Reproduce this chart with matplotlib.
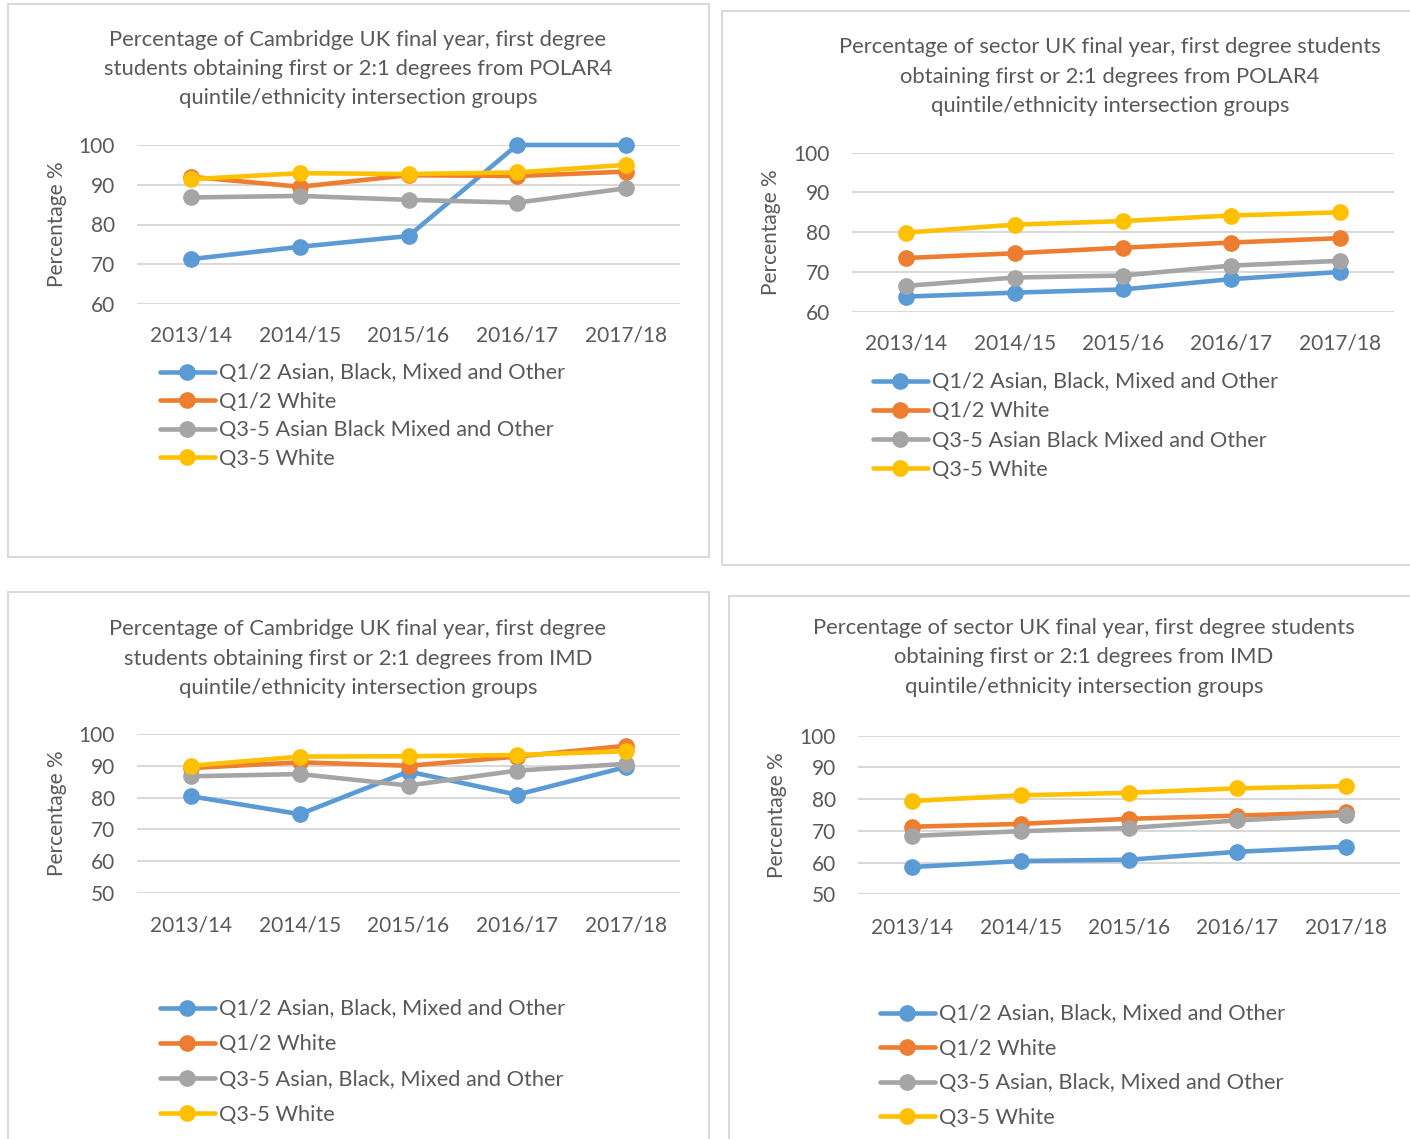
import matplotlib
matplotlib.use("Agg")
import matplotlib.pyplot as plt
from matplotlib.patches import Rectangle

plt.rcParams['font.family'] = ['Lato', 'DejaVu Sans']

W, H = 1410, 1139
DPI = 100

years = ["2013/14", "2014/15", "2015/16", "2016/17", "2017/18"]

series_names_a = ["Q1/2 Asian, Black, Mixed and Other", "Q1/2 White",
                  "Q3-5 Asian Black Mixed and Other", "Q3-5 White"]
series_names_b = ["Q1/2 Asian, Black, Mixed and Other", "Q1/2 White",
                  "Q3-5 Asian, Black, Mixed and Other", "Q3-5 White"]

# Cambridge POLAR4
cam_polar_q12_bame = [71.3, 74.4, 77.1, 100.0, 100.0]
cam_polar_q12_white = [92.0, 89.5, 92.4, 92.2, 93.3]
cam_polar_q35_bame = [86.8, 87.2, 86.2, 85.5, 89.1]
cam_polar_q35_white = [91.4, 92.9, 92.7, 93.1, 95.0]

# Sector POLAR4
sec_polar_q12_bame = [63.8, 64.8, 65.6, 68.2, 70.0]
sec_polar_q12_white = [73.5, 74.7, 76.1, 77.4, 78.5]
sec_polar_q35_bame = [66.5, 68.6, 69.1, 71.6, 72.8]
sec_polar_q35_white = [79.9, 81.9, 82.8, 84.2, 85.0]

# Cambridge IMD
cam_imd_q12_bame = [80.4, 74.8, 88.2, 80.9, 89.6]
cam_imd_q12_white = [89.3, 91.1, 90.0, 92.9, 96.3]
cam_imd_q35_bame = [86.7, 87.4, 83.8, 88.5, 90.6]
cam_imd_q35_white = [90.0, 92.9, 93.0, 93.4, 94.6]

# Sector IMD
sec_imd_q12_bame = [58.6, 60.5, 60.9, 63.4, 65.0]
sec_imd_q12_white = [71.3, 72.2, 73.8, 74.8, 75.9]
sec_imd_q35_bame = [68.4, 69.9, 70.9, 73.3, 75.0]
sec_imd_q35_white = [79.4, 81.2, 82.0, 83.4, 84.1]

colors = ["#5B9BD5", "#ED7D31", "#A5A5A5", "#FFC000"]
TXT = "#595959"
GRID = "#D9D9D9"

fig = plt.figure(figsize=(W / DPI, H / DPI), dpi=DPI)

def fx(px):
    return px / W

def fy(py):
    return 1 - py / H

panels = [
    dict(box=(8, 4, 709, 557), ax=(137, 680, 145, 304), ylim=(60, 100),
         yticks=[60, 70, 80, 90, 100],
         title=["Percentage of Cambridge UK final year, first degree",
                "students obtaining first or 2:1 degrees from POLAR4",
                "quintile/ethnicity intersection groups"],
         tx=358, ty=[40, 69, 98], xty=335, ytr=115, ylx=57,
         leg=(160, 371, 28.7), names=series_names_a,
         data=[cam_polar_q12_bame, cam_polar_q12_white, cam_polar_q35_bame, cam_polar_q35_white]),
    dict(box=(722, 11, 1418, 565), ax=(852, 1394, 152.7, 311.7), ylim=(60, 100),
         yticks=[60, 70, 80, 90, 100],
         title=["Percentage of sector UK final year, first degree students",
                "obtaining first or 2:1 degrees from POLAR4",
                "quintile/ethnicity intersection groups"],
         tx=1110, ty=[47, 77, 106], xty=343, ytr=830, ylx=771,
         leg=(873, 380, 29.3), names=series_names_a,
         data=[sec_polar_q12_bame, sec_polar_q12_white, sec_polar_q35_bame, sec_polar_q35_white]),
    dict(box=(8, 592, 709, 1150), ax=(137, 680, 734, 893), ylim=(50, 100),
         yticks=[50, 60, 70, 80, 90, 100],
         title=["Percentage of Cambridge UK final year, first degree",
                "students obtaining first or 2:1 degrees from IMD",
                "quintile/ethnicity intersection groups"],
         tx=358, ty=[629, 659, 688], xty=925, ytr=115, ylx=57,
         leg=(160, 1007, 35.3), names=series_names_b,
         data=[cam_imd_q12_bame, cam_imd_q12_white, cam_imd_q35_bame, cam_imd_q35_white]),
    dict(box=(729, 596, 1418, 1150), ax=(858, 1400, 735.7, 894.3), ylim=(50, 100),
         yticks=[50, 60, 70, 80, 90, 100],
         title=["Percentage of sector UK final year, first degree students",
                "obtaining first or 2:1 degrees from IMD",
                "quintile/ethnicity intersection groups"],
         tx=1084, ty=[628, 657, 687], xty=927, ytr=836, ylx=777,
         leg=(880, 1012, 34.7), names=series_names_b,
         data=[sec_imd_q12_bame, sec_imd_q12_white, sec_imd_q35_bame, sec_imd_q35_white]),
]

FS = 15.0
FS_T = 15.8
FS_L = 15.7

for p in panels:
    x0, y0, x1, y1 = p["box"]
    fig.patches.append(Rectangle((fx(x0), fy(y1)), fx(x1 - x0), (y1 - y0) / H,
                                 transform=fig.transFigure, fill=False,
                                 edgecolor=GRID, linewidth=1.5, zorder=0))
    l, r, t, b = p["ax"]
    ax = fig.add_axes([fx(l), fy(b), fx(r - l), (b - t) / H])
    xs = list(range(len(years)))
    lines = []
    for vals, c, name in zip(p["data"], colors, p["names"]):
        ln, = ax.plot(xs, vals, color=c, linewidth=3.3, marker="o", markersize=11,
                      solid_capstyle="round", label=name, clip_on=False)
        lines.append(ln)
    ax.set_xlim(-0.5, len(years) - 0.5)
    ax.set_ylim(*p["ylim"])
    ax.set_yticks(p["yticks"])
    ax.set_yticklabels([str(v) for v in p["yticks"]])
    ax.set_xticks(xs)
    ax.set_xticklabels([])
    for s in ax.spines.values():
        s.set_visible(False)
    ax.tick_params(length=0, labelsize=FS, colors=TXT)
    ax.yaxis.grid(True, color=GRID, linewidth=1.5)
    ax.set_axisbelow(True)
    ax.set_facecolor("none")
    pad_px = l - p["ytr"]
    ax.tick_params(axis="y", pad=pad_px * 0.72)
    for i, yl in enumerate(years):
        ax.annotate(yl, xy=(i, 0), xycoords=("data", "axes fraction"),
                    xytext=(0, -(p["xty"] - b) * 0.72), textcoords="offset points",
                    ha="center", va="center", fontsize=FS, color=TXT)
    fig.text(fx(p["ylx"]), fy((t + b) / 2), "Percentage %", rotation=90,
             ha="center", va="center", fontsize=FS, color=TXT)
    for line, yy in zip(p["title"], p["ty"]):
        fig.text(fx(p["tx"]), fy(yy), line, ha="center", va="center",
                 fontsize=FS_T, color=TXT)
    lx, ly, step = p["leg"]
    fs_px = FS_L / 0.72
    text_h = 0.922 * fs_px
    leg = fig.legend(handles=lines, labels=p["names"], loc="upper left",
                     bbox_to_anchor=(fx(lx), fy(ly - 7.7)), bbox_transform=fig.transFigure,
                     frameon=False, fontsize=FS_L, handlelength=2.5, handletextpad=0.2,
                     borderpad=0, borderaxespad=0,
                     labelspacing=(step - text_h) / fs_px)
    for txt in leg.get_texts():
        txt.set_color(TXT)

fig.savefig("out.png", dpi=DPI)
